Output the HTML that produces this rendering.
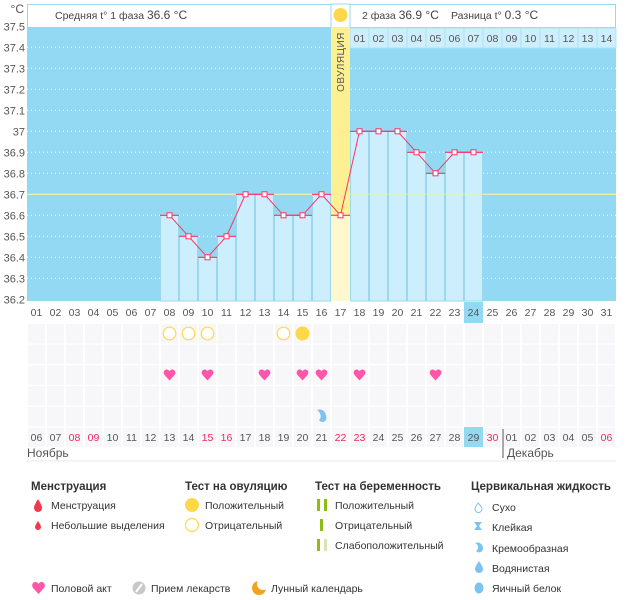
<!DOCTYPE html>
<html><head><meta charset="utf-8"><style>
body{margin:0;background:#fff;width:626px;height:595px;overflow:hidden;font-family:"Liberation Sans","DejaVu Sans",sans-serif;}
svg text{font-family:"Liberation Sans","DejaVu Sans",sans-serif;}
</style></head><body>
<svg width="626" height="595" xmlns="http://www.w3.org/2000/svg">
<defs>
<symbol id="heart" viewBox="0 0 12 11"><path d="M6 11 L1 5.5 C-0.8 3.2 0.5 0 3.2 0 C4.6 0 5.5 1 6 1.8 C6.5 1 7.4 0 8.8 0 C11.5 0 12.8 3.2 11 5.5 Z" fill="#ff55aa"/></symbol>
<mask id="moon"><rect x="240" y="575" width="30" height="25" fill="#fff"/><circle cx="263" cy="584" r="6" fill="#000"/></mask>
</defs>
<rect x="27.5" y="4.5" width="588" height="23" fill="#fff" stroke="#9ad8f0"/>
<text x="24" y="13" font-size="12" fill="#555" text-anchor="end">°C</text>
<text x="55" y="19" font-size="10.5" fill="#444">Средняя t° 1 фаза <tspan font-size="12">36.6 °C</tspan></text>
<rect x="331" y="4" width="19" height="24" fill="#fff" stroke="#9ad8f0"/>
<circle cx="340.5" cy="15" r="7" fill="#ffd84a"/>
<text x="362" y="19" font-size="10.5" fill="#444">2 фаза <tspan font-size="12">36.9 °C</tspan></text>
<text x="451" y="19" font-size="10.5" fill="#444">Разница t° <tspan font-size="12">0.3 °C</tspan></text>
<rect x="27" y="27" width="589" height="274" fill="#94d9f3"/>
<g id="bars"></g>
<g font-size="11" fill="#555" text-anchor="end" id="ylab"></g>
<g id="plot"></g>
<g id="below"></g>
<g font-size="10.5" fill="#333">
<text x="31" y="490" font-weight="bold" font-size="11.5">Менструация</text>
<path d="M38 499 C35 504 34 506 34 508 A4 4 0 0 0 42 508 C42 506 41 504 38 499Z" fill="#f2384d"/>
<text x="51" y="509">Менструация</text>
<path d="M38 521 C36 524 35 526 35 527 A3 3 0 0 0 41 527 C41 526 40 524 38 521Z" fill="#f2384d"/>
<text x="51" y="529">Небольшие выделения</text>
<text x="185" y="490" font-weight="bold" font-size="11.5">Тест на овуляцию</text>
<circle cx="192" cy="505" r="7" fill="#ffd84a"/>
<text x="205" y="509">Положительный</text>
<circle cx="192" cy="525" r="6.5" fill="#fff" stroke="#ffd84a" stroke-width="1.2"/>
<text x="205" y="529">Отрицательный</text>
<text x="315" y="490" font-weight="bold" font-size="11.5">Тест на беременность</text>
<rect x="317" y="499" width="3" height="12" fill="#8cbd10"/><rect x="324" y="499" width="3" height="12" fill="#8cbd10"/>
<text x="335" y="509">Положительный</text>
<rect x="320" y="519" width="3" height="12" fill="#8cbd10"/>
<text x="335" y="529">Отрицательный</text>
<rect x="317" y="539" width="3" height="12" fill="#8cbd10"/><rect x="324" y="539" width="3" height="12" fill="#d5e6b0"/>
<text x="335" y="549">Слабоположительный</text>
<text x="471" y="490" font-weight="bold" font-size="11.5">Цервикальная жидкость</text>
<path d="M478 503 C476 506 475 508 475 509 A3.5 3.5 0 0 0 482 509 C482 508 481 506 478 503Z" fill="none" stroke="#7cc4ef"/>
<text x="492" y="511">Сухо</text>
<path d="M474 522 h8 l-3 4 l3 4 h-8 l3 -4z" fill="#7cc4ef"/>
<text x="492" y="531">Клейкая</text>
<path d="M475 543 C480 541 483 545 483 548 A4 4 0 0 1 476 551 C479 549 479 545 475 543Z" fill="#7cc4ef"/>
<text x="492" y="552">Кремообразная</text>
<path d="M479 561 C477 564 475 567 475 569 A4 4 0 0 0 483 569 C483 567 481 564 479 561Z" fill="#7cc4ef"/>
<text x="492" y="572">Водянистая</text>
<ellipse cx="479" cy="588" rx="4.5" ry="5.5" fill="#7cc4ef"/>
<text x="492" y="592">Яичный белок</text>
<use href="#heart" x="32" y="582" width="13" height="12"/>
<text x="51" y="592">Половой акт</text>
<circle cx="139" cy="588" r="6.5" fill="#c8c8c8"/><path d="M136 592 L142 584" stroke="#fff" stroke-width="2"/>
<text x="151" y="592">Прием лекарств</text>
<circle cx="259" cy="588" r="7" fill="#f3a21c" mask="url(#moon)"/>
<text x="271" y="592">Лунный календарь</text>
</g>
</svg>
<script>
const NS="http://www.w3.org/2000/svg";
function el(p,t,a,txt){const e=document.createElementNS(NS,t);for(const k in a)e.setAttribute(k,a[k]);if(txt!=null)e.textContent=txt;document.getElementById(p).appendChild(e);return e;}
const Y=t=>131.3+(37-t)*210;
const L=i=>27+19*(i-1);
const temps={8:36.6,9:36.5,10:36.4,11:36.5,12:36.7,13:36.7,14:36.6,15:36.6,16:36.7,17:36.6,18:37.0,19:37.0,20:37.0,21:36.9,22:36.8,23:36.9,24:36.9};
for(let k=0;k<=13;k++){const t=37.5-k*0.1;const y=Y(t);
 el("ylab","text",{x:25,y:y+4},(Math.round(t*10)/10).toString());
 if(k>0&&k<13&&k!=8) el("bars","line",{x1:27,x2:616,y1:y,y2:y,stroke:"#fff","stroke-dasharray":"1 3","stroke-width":1});}
el("bars","line",{x1:27,x2:616,y1:Y(36.7),y2:Y(36.7),stroke:"#f4f0a0","stroke-width":1.2});
for(let i=18;i<=31;i++){el("bars","rect",{x:L(i),y:28,width:19,height:20,fill:"#cdeefc",stroke:"#a8e0f5","stroke-width":0.8});
 el("bars","text",{x:L(i)+9.5,y:42,"font-size":10.5,fill:"#555","text-anchor":"middle"},String(i-17).padStart(2,"0"));}
for(const d in temps){const i=+d,y=Y(temps[d]);
 if(i==17){el("bars","rect",{x:L(i),y:27,width:19,height:y-27,fill:"#fdf092"});el("bars","rect",{x:L(i),y:y,width:19,height:301-y,fill:"#fff8cf"});}
 else el("bars","rect",{x:L(i)+0.5,y:y,width:18,height:301-y,fill:"#cdeefc",stroke:"#9ad8f0","stroke-width":1});}
el("bars","text",{x:0,y:0,"font-size":10,fill:"#555","text-anchor":"middle",transform:"translate(344,62) rotate(-90)","letter-spacing":"0.5"},"ОВУЛЯЦИЯ");
el("bars","line",{x1:27,x2:616,y1:Y(36.7),y2:Y(36.7),stroke:"#f4f0a0","stroke-width":1,opacity:0.6});
let pts=[];for(const d in temps){pts.push((L(+d)+9.5)+","+Y(temps[d]));}
el("plot","polyline",{points:pts.join(" "),fill:"none",stroke:"#ff3366","stroke-width":1});
for(const d in temps){const x=L(+d),y=Y(temps[d]);
 el("plot","line",{x1:x,x2:x+19,y1:y,y2:y,stroke:"#ff3366","stroke-width":1.2});
 el("plot","rect",{x:x+7,y:y-2.5,width:5,height:5,fill:"#fff",stroke:"#ff3366","stroke-width":1});}
el("below","rect",{x:L(24),y:302,width:19,height:21,fill:"#94d9f3"});
for(let i=1;i<=31;i++){el("below","text",{x:L(i)+9.5,y:316,"font-size":10.5,fill:"#555","text-anchor":"middle"},String(i).padStart(2,"0"));
 for(let r=0;r<6;r++){el("below","rect",{x:L(i)+1,y:324+r*20.7,width:17,height:19.5,fill:"#f7f7f9"});}}
el("below","rect",{x:L(24),y:427,width:19,height:20,fill:"#94d9f3"});
const red=[3,4,10,11,17,18,25,31];
for(let i=1;i<=31;i++){let n=i<=25?i+5:i-25;el("below","text",{x:L(i)+9.5,y:441,"font-size":10.5,fill:red.includes(i)?"#f0285a":"#555","text-anchor":"middle"},String(n).padStart(2,"0"));}
el("below","line",{x1:503,x2:503,y1:429,y2:458,stroke:"#555","stroke-width":1});
el("below","text",{x:27,y:457,"font-size":12,fill:"#555"},"Ноябрь");
el("below","text",{x:507,y:457,"font-size":12,fill:"#555"},"Декабрь");
el("below","line",{x1:27,x2:616,y1:461,y2:461,stroke:"#e8e8e8"});
[8,9,10,14].forEach(i=>el("below","circle",{cx:L(i)+9.5,cy:333.5,r:6.3,fill:"#fff",stroke:"#ffd84a","stroke-width":1.2}));
el("below","circle",{cx:L(15)+9.5,cy:333.5,r:7,fill:"#ffd84a"});
[8,10,13,15,16,18,22].forEach(i=>el("below","use",{href:"#heart",x:L(i)+3.5,y:369.5,width:12,height:11}));
el("below","path",{d:`M${L(16)+5} 410 C${L(16)+11} 408 ${L(16)+14} 413 ${L(16)+14} 416 A4 4 0 0 1 ${L(16)+7} 420 C${L(16)+10} 417 ${L(16)+9} 413 ${L(16)+5} 410Z`,fill:"#7cc4ef"});
</script>
</body></html>
